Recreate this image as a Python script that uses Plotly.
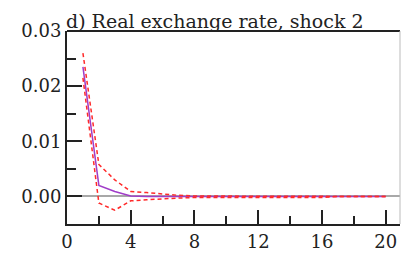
import plotly.graph_objects as go

steps = list(range(1, 21))
median = [0.0235, 0.0020, 0.0009, 0.0001, 0.0, 0.0, 0.0, 0.0, 0.0, 0.0,
          0.0, 0.0, 0.0, 0.0, 0.0, 0.0, 0.0, 0.0, 0.0, 0.0]
upper = [0.0260, 0.0058, 0.0030, 0.0009, 0.0007, 0.0004, 0.0002, 0.0001, 0.00005, 0.00005,
         0.00003, 0.00003, 0.00002, 0.00002, 0.00001, 0.00001, 0.0, 0.0, 0.0, 0.0]
lower = [0.0215, -0.0012, -0.0025, -0.0008, -0.0006, -0.0004, -0.0003, -0.0002, -0.0002, -0.0002,
         -0.0002, -0.0002, -0.0002, -0.0002, -0.0002, -0.0002, 0.0, 0.0, 0.0, 0.0]

x_ticks = [0, 4, 8, 12, 16, 20]
y_ticks = [0.0, 0.01, 0.02, 0.03]
y_labels = ["0.00", "0.01", "0.02", "0.03"]
title = "d) Real exchange rate, shock 2"

FONT = "DejaVu Serif"

fig = go.Figure()
fig.add_trace(go.Scatter(x=steps, y=median, mode="lines",
                         line=dict(color="#A03CC8", width=1.5), showlegend=False))
fig.add_trace(go.Scatter(x=steps, y=upper, mode="lines",
                         line=dict(color="#FF2A2A", width=1.5, dash="4px,3px"), showlegend=False))
fig.add_trace(go.Scatter(x=steps, y=lower, mode="lines",
                         line=dict(color="#FF2A2A", width=1.5, dash="4px,3px"), showlegend=False))

fig.update_layout(
    width=401, height=253,
    margin=dict(l=67, r=1, t=31, b=27),
    paper_bgcolor="white", plot_bgcolor="white",
    font=dict(family=FONT, size=18, color="#222"),
    annotations=[dict(text=title, xref="paper", yref="paper", x=-0.01, y=1.0,
                      xanchor="left", yanchor="bottom", showarrow=False,
                      font=dict(family=FONT, size=19, color="#222"), yshift=-3)],
    shapes=[dict(type="line", xref="paper", yref="paper", x0=0, x1=1, y0=1, y1=1,
                 line=dict(color="#222", width=2)),
            dict(type="line", xref="paper", yref="paper", x0=1, x1=1, y0=0, y1=1,
                 line=dict(color="#bbb", width=1))],
)
fig.update_xaxes(range=[0, 20.9], tickvals=x_ticks, ticks="inside", ticklen=14,
                 tickwidth=2, tickcolor="#222", showline=True, linecolor="#222", linewidth=2,
                 showgrid=False, zeroline=False,
                 minor=dict(ticks="inside", ticklen=8, tickwidth=2, tickcolor="#222",
                            tickvals=[2, 6, 10, 14, 18], showgrid=False),
                 tickfont=dict(family=FONT, size=18))
fig.update_yaxes(range=[-0.005, 0.03], tickvals=y_ticks, ticktext=y_labels, ticks="inside",
                 ticklen=15, tickwidth=2, tickcolor="#222", showline=True, linecolor="#222",
                 linewidth=2, showgrid=False, zeroline=True, zerolinecolor="#a8a8a8",
                 zerolinewidth=1.5,
                 minor=dict(ticks="inside", ticklen=9, tickwidth=2, tickcolor="#222",
                            tickvals=[0.005, 0.015, 0.025], showgrid=False),
                 tickfont=dict(family=FONT, size=18))

fig.write_html("out.html", config={"displayModeBar": False},
               post_script="document.body.style.margin='0';document.body.style.padding='0';")
